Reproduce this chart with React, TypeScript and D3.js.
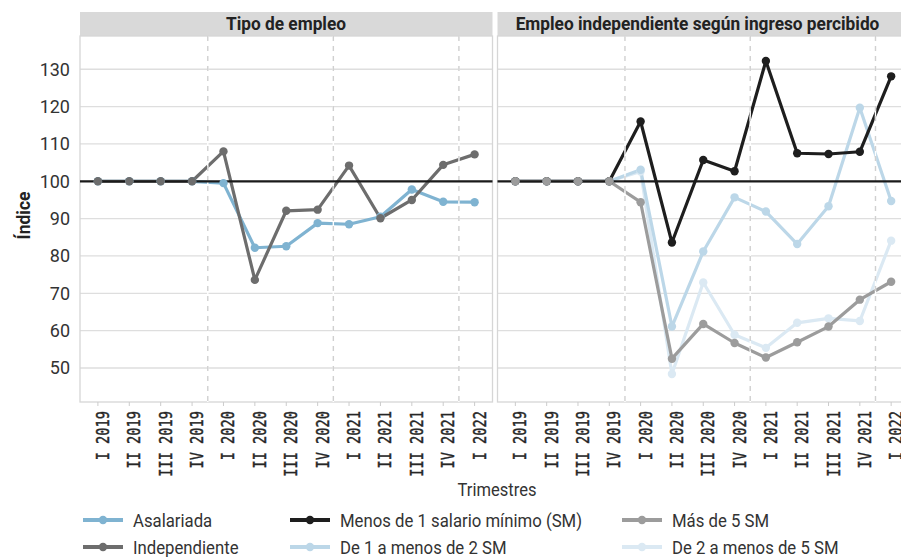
import React, { useEffect, useRef } from "react";
import * as d3 from "d3";

// quarters on the x axis
const quarters = [
  "I 2019", "II 2019", "III 2019", "IV 2019",
  "I 2020", "II 2020", "III 2020", "IV 2020",
  "I 2021", "II 2021", "III 2021", "IV 2021",
  "I 2022",
];

// Tipo de empleo
const asalariada = [100, 100, 100, 100, 99.5, 82.2, 82.6, 88.8, 88.5, 90.5, 97.8, 94.5, 94.4];
const independiente = [100, 100, 100, 100, 108, 73.6, 92.1, 92.4, 104.2, 90.1, 95, 104.4, 107.2];

// Empleo independiente según ingreso percibido
const menos1 = [100, 100, 100, 100, 116, 83.6, 105.7, 102.7, 132.2, 107.5, 107.3, 107.9, 128.1];
const de1a2 = [100, 100, 100, 100, 103.1, 61.1, 81.2, 95.7, 91.9, 83.2, 93.3, 119.7, 94.7];
const de2a5 = [100, 100, 100, 100, 102.6, 48.4, 72.9, 58.9, 55.4, 62.1, 63.3, 62.6, 84.1];
const mas5 = [100, 100, 100, 100, 94.4, 52.5, 61.8, 56.7, 52.8, 56.9, 61.1, 68.3, 73.1];

const yTicks = [50, 60, 70, 80, 90, 100, 110, 120, 130];
const yearBreaks = ["IV 2019", "IV 2020", "IV 2021"];

const COLORS = {
  asalariada: "#7fb3d1",
  independiente: "#6d6d6d",
  menos1: "#1e1e1e",
  de1a2: "#bcd7e8",
  de2a5: "#dbe9f3",
  mas5: "#9c9c9c",
};

const SANS = "Roboto, 'Noto Sans', sans-serif";

const App = () => {
  const svgRef = useRef<SVGSVGElement | null>(null);

  useEffect(() => {
    const W = 901;
    const H = 557;
    const svg = d3.select(svgRef.current);
    svg.selectAll("*").remove();
    svg.attr("width", W).attr("height", H);

    const top = 36;
    const bottom = 402;
    const y = d3.scaleLinear().domain([40.9, 138.9]).range([bottom, top]);

    const panels = [
      {
        x0: 80,
        x1: 492.5,
        title: "Tipo de empleo",
        titleX: 286,
        series: [
          { values: asalariada, color: COLORS.asalariada },
          { values: independiente, color: COLORS.independiente },
        ],
      },
      {
        x0: 497.5,
        x1: 909,
        title: "Empleo independiente según ingreso percibido",
        titleX: 697.5,
        series: [
          { values: de2a5, color: COLORS.de2a5 },
          { values: de1a2, color: COLORS.de1a2 },
          { values: menos1, color: COLORS.menos1 },
          { values: mas5, color: COLORS.mas5 },
        ],
      },
    ];

    panels.forEach((p) => {
      const x = d3.scalePoint<string>().domain(quarters).range([p.x0, p.x1]).padding(0.57);
      const g = svg.append("g");

      // strip
      g.append("rect")
        .attr("x", p.x0)
        .attr("y", 12)
        .attr("width", p.x1 - p.x0)
        .attr("height", top - 12)
        .attr("fill", "#d9d9d9");
      g.append("text")
        .attr("transform", `translate(${p.titleX},30) scale(0.96,1)`)
        .attr("text-anchor", "middle")
        .style("font-family", SANS)
        .style("font-weight", 700)
        .style("font-size", "18px")
        .style("fill", "#222")
        .text(p.title);

      // horizontal grid
      g.selectAll("line.grid")
        .data(yTicks)
        .join("line")
        .attr("x1", p.x0)
        .attr("x2", p.x1)
        .attr("y1", (d) => y(d))
        .attr("y2", (d) => y(d))
        .attr("stroke", "#dedede")
        .attr("stroke-width", 1.3);

      // panel border
      g.append("rect")
        .attr("x", p.x0)
        .attr("y", top)
        .attr("width", p.x1 - p.x0)
        .attr("height", bottom - top)
        .attr("fill", "none")
        .attr("stroke", "#d6d6d6")
        .attr("stroke-width", 1.3);

      // bottom ticks
      g.selectAll("line.tick")
        .data(quarters)
        .join("line")
        .attr("x1", (d) => x(d)!)
        .attr("x2", (d) => x(d)!)
        .attr("y1", bottom)
        .attr("y2", bottom + 4)
        .attr("stroke", "#cccccc");

      // tick labels
      g.selectAll("text.xlab")
        .data(quarters)
        .join("text")
        .attr("transform", (d) => `translate(${x(d)! + 11},411) rotate(-90) scale(0.76,1)`)
        .attr("text-anchor", "end")
        .style("font-family", "'DejaVu Sans Mono', 'Liberation Mono', monospace")
        .style("font-size", "18px")
        .style("fill", "#262626")
        .style("stroke", "#262626")
        .style("stroke-width", 0.45)
        .text((d) => d);

      const line = d3
        .line<number>()
        .x((_, i) => x(quarters[i])!)
        .y((d) => y(d));

      p.series.forEach((s) => {
        g.append("path")
          .attr("d", line(s.values))
          .attr("fill", "none")
          .attr("stroke", s.color)
          .attr("stroke-width", 3.2)
          .attr("stroke-linejoin", "round");
      });

      // dashed year separators drawn over the data
      const step = x.step();
      yearBreaks.forEach((q) => {
        const xv = x(q)! + step / 2;
        g.append("line")
          .attr("x1", xv)
          .attr("x2", xv)
          .attr("y1", top)
          .attr("y2", bottom)
          .attr("stroke", "#ffffff")
          .attr("stroke-width", 1.4);
        g.append("line")
          .attr("x1", xv)
          .attr("x2", xv)
          .attr("y1", top)
          .attr("y2", bottom)
          .attr("stroke", "#d0d0d0")
          .attr("stroke-width", 1.4)
          .attr("stroke-dasharray", "5 5");
      });

      // reference line at 100
      g.append("line")
        .attr("x1", p.x0)
        .attr("x2", p.x1)
        .attr("y1", y(100))
        .attr("y2", y(100))
        .attr("stroke", "#1a1a1a")
        .attr("stroke-width", 2.2);

      p.series.forEach((s) => {
        g.append("g")
          .selectAll("circle")
          .data(s.values)
          .join("circle")
          .attr("cx", (_, i) => x(quarters[i])!)
          .attr("cy", (d) => y(d))
          .attr("r", 4.2)
          .attr("fill", s.color);
      });
    });

    // y axis labels (left panel only)
    svg
      .append("g")
      .selectAll("text")
      .data(yTicks)
      .join("text")
      .attr("x", 70)
      .attr("y", (d) => y(d))
      .attr("dy", "0.35em")
      .attr("text-anchor", "end")
      .style("font-family", SANS)
      .style("font-size", "18px")
      .style("fill", "#333")
      .text((d) => d);

    svg
      .append("text")
      .attr("transform", "translate(30,215.5) rotate(-90) scale(0.97,1)")
      .attr("text-anchor", "middle")
      .style("font-family", SANS)
      .style("font-weight", 700)
      .style("font-size", "18px")
      .style("fill", "#222")
      .text("Índice");

    svg
      .append("text")
      .attr("transform", "translate(497,496) scale(0.92,1)")
      .attr("text-anchor", "middle")
      .style("font-family", SANS)
      .style("font-size", "18px")
      .style("fill", "#333")
      .text("Trimestres");

    // legend
    const legendItems = [
      { label: "Asalariada", color: COLORS.asalariada, col: 0, row: 0 },
      { label: "Independiente", color: COLORS.independiente, col: 0, row: 1 },
      { label: "Menos de 1 salario mínimo (SM)", color: COLORS.menos1, col: 1, row: 0 },
      { label: "De 1 a menos de 2 SM", color: COLORS.de1a2, col: 1, row: 1 },
      { label: "Más de 5 SM", color: COLORS.mas5, col: 2, row: 0 },
      { label: "De 2 a menos de 5 SM", color: COLORS.de2a5, col: 2, row: 1 },
    ];
    const colX = [83, 290, 622];
    const rowY = [520, 547];

    legendItems.forEach((it) => {
      const lg = svg
        .append("g")
        .attr("transform", `translate(${colX[it.col]},${rowY[it.row]})`);
      lg.append("line")
        .attr("x1", 0)
        .attr("x2", 40)
        .attr("stroke", it.color)
        .attr("stroke-width", 4);
      lg.append("circle").attr("cx", 20).attr("r", 4.2).attr("fill", it.color);
      lg.append("text")
        .attr("transform", "translate(50,6.5) scale(0.93,1)")
        .style("font-family", SANS)
        .style("font-size", "18px")
        .style("fill", "#333")
        .text(it.label);
    });
  }, []);

  return (
    <div style={{ position: "absolute", left: 0, top: 0, background: "#fff" }}>
      <svg ref={svgRef} style={{ display: "block" }}></svg>
    </div>
  );
};

export default App;
